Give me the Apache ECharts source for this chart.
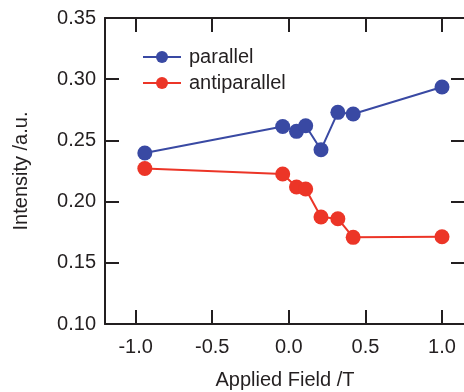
<!DOCTYPE html>
<html>
<head>
<meta charset="utf-8">
<script src="https://cdn.jsdelivr.net/npm/echarts@6/dist/echarts.min.js"></script>
<style>
	html, body { margin: 0; padding: 0; background: #fff; }
	#chart { width: 464px; height: 392px; }
</style>
</head>
<body>
<div id="chart"></div>
<script>
	// field values (T)
	var fieldParallel = [-0.94, -0.04, 0.05, 0.11, 0.21, 0.32, 0.42, 1.0];
	var fieldAntiparallel = [-0.94, -0.04, 0.05, 0.11, 0.21, 0.32, 0.42, 1.0];
	// intensity (a.u.)
	var parallel = [0.2397, 0.2614, 0.2574, 0.2620, 0.2424, 0.2729, 0.2716, 0.2936];
	var antiparallel = [0.2271, 0.2225, 0.2119, 0.2103, 0.1874, 0.1860, 0.1708, 0.1713];
	var xTicks = [-1.0, -0.5, 0.0, 0.5, 1.0];

	var axisColor = '#231f20';
	var font = 'Liberation Sans, Arial, sans-serif';
	var fontSize = 20;

	function pairs(xs, ys) {
		var out = [];
		for (var i = 0; i < xs.length; i++) {
			out.push([xs[i], ys[i]]);
		}
		return out;
	}

	function createSerie(name, color, data) {
		return {
			name: name,
			type: 'line',
			symbol: 'circle',
			symbolSize: 15,
			color: color,
			lineStyle: { width: 2, color: color },
			itemStyle: { color: color },
			data: data,
			animation: false
		};
	}

	var chart = echarts.init(document.getElementById('chart'));

	var xBase = {
		type: 'value',
		min: -1.2,
		max: 1.15,
		splitLine: { show: false },
		axisLine: { show: true, onZero: false, lineStyle: { color: axisColor, width: 2 } },
		axisTick: { show: true, inside: true, length: 14, customValues: xTicks, lineStyle: { color: axisColor, width: 2 } }
	};
	var yBase = {
		type: 'value',
		min: 0.10,
		max: 0.35,
		interval: 0.05,
		splitLine: { show: false },
		axisLine: { show: true, onZero: false, lineStyle: { color: axisColor, width: 2 } },
		axisTick: { show: true, inside: true, length: 14, lineStyle: { color: axisColor, width: 2 } }
	};

	chart.setOption({
		backgroundColor: '#fff',
		textStyle: { fontFamily: font },
		grid: { left: 105, right: -1, top: 18, bottom: 68, containLabel: false, outerBoundsMode: 'none' },
		legend: {
			orient: 'vertical',
			left: 137,
			top: 42,
			itemWidth: 38,
			itemHeight: 15,
			itemGap: 6,
			textStyle: { fontSize: fontSize, color: axisColor, fontFamily: font, lineHeight: 20, padding: [0, 0, 0, 3] },
			data: ['parallel', 'antiparallel']
		},
		xAxis: [
			Object.assign({}, xBase, {
				position: 'bottom',
				name: 'Applied Field /T',
				nameLocation: 'middle',
				nameGap: 46,
				nameTextStyle: { fontSize: fontSize, color: axisColor, fontFamily: font },
				axisLabel: {
					customValues: xTicks,
					margin: 13,
					fontSize: fontSize,
					color: axisColor,
					fontFamily: font,
					formatter: function(v) { return v.toFixed(1); }
				}
			}),
			Object.assign({}, xBase, { position: 'top', axisLabel: { show: false } })
		],
		yAxis: [
			Object.assign({}, yBase, {
				position: 'left',
				name: 'Intensity /a.u.',
				nameLocation: 'middle',
				nameGap: 74,
				nameTextStyle: { fontSize: fontSize, color: axisColor, fontFamily: font },
				axisLabel: {
					margin: 9,
					fontSize: fontSize,
					color: axisColor,
					fontFamily: font,
					formatter: function(v) { return v.toFixed(2); }
				}
			}),
			Object.assign({}, yBase, { position: 'right', axisLabel: { show: false } })
		],
		series: [
			createSerie('parallel', '#3949a3', pairs(fieldParallel, parallel)),
			createSerie('antiparallel', '#ec3527', pairs(fieldAntiparallel, antiparallel))
		]
	});
</script>
</body>
</html>
